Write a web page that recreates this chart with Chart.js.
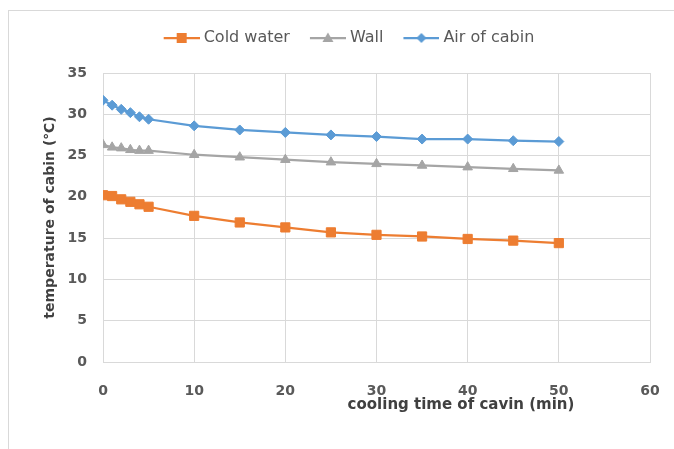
<!DOCTYPE html>
<html>
<head>
<meta charset="utf-8">
<script src="https://cdn.jsdelivr.net/npm/chart.js@4.4.0/dist/chart.umd.min.js"></script>
<style>
  html, body { margin: 0; padding: 0; overflow: hidden; background: #fff; }
  #frame { position: absolute; left: 8px; top: 10px; width: 700px; height: 500px; border: 1px solid #d9d9d9; }
  #chart { position: absolute; left: 0; top: 0; }
</style>
</head>
<body>
<div id="frame"></div>
<canvas id="chart" width="698" height="449"></canvas>
<script>
// values
var time = [0, 1, 2, 3, 4, 5, 10, 15, 20, 25, 30, 35, 40, 45, 50];
var coldWater = [20.2, 20.1, 19.7, 19.4, 19.1, 18.8, 17.7, 16.9, 16.3, 15.7, 15.4, 15.2, 14.9, 14.7, 14.4];
var wall = [26.3, 26.0, 25.9, 25.7, 25.6, 25.6, 25.1, 24.8, 24.5, 24.2, 24.0, 23.8, 23.6, 23.4, 23.2];
var airOfCabin = [31.7, 31.1, 30.6, 30.2, 29.7, 29.4, 28.6, 28.1, 27.8, 27.5, 27.3, 27.0, 27.0, 26.8, 26.7];

var seriesNames = ['Cold water', 'Wall', 'Air of cabin'];
var xTicks = [0, 10, 20, 30, 40, 50, 60];
var yTicks = [0, 5, 10, 15, 20, 25, 30, 35];
var xAxisTitle = 'cooling time of cavin (min)';
var yAxisTitle = 'temperature of cabin (\u2103)';

var colors = ['#ED7D31', '#A5A5A5', '#5B9BD5'];
var fontFamily = '"DejaVu Sans", "Noto Sans", sans-serif';

Chart.defaults.font.family = fontFamily;

function points(values) {
    return time.map(function (t, i) { return { x: t, y: values[i] }; });
}

// little line + marker pictures for the legend
function legendIcon(color, style) {
    var c = document.createElement('canvas');
    c.width = 40;
    c.height = 14;
    var g = c.getContext('2d');
    g.strokeStyle = color;
    g.fillStyle = color;
    g.lineWidth = 2.25;
    g.beginPath();
    g.moveTo(4, 7);
    g.lineTo(40, 7);
    g.stroke();
    g.beginPath();
    if (style === 'rect') {
        g.rect(17, 2, 10, 10);
    } else if (style === 'triangle') {
        g.moveTo(22, 1.5);
        g.lineTo(27.5, 11);
        g.lineTo(16.5, 11);
        g.closePath();
    } else {
        g.moveTo(22, 2);
        g.lineTo(27, 7);
        g.lineTo(22, 12);
        g.lineTo(17, 7);
        g.closePath();
    }
    g.fill();
    return c;
}

var legendIcons = [
    legendIcon(colors[0], 'rect'),
    legendIcon(colors[1], 'triangle'),
    legendIcon(colors[2], 'rectRot')
];

// keep the legend band a fixed height
var legendHeight = {
    id: 'legendHeight',
    beforeInit: function (chart) {
        var fit = chart.legend.fit;
        chart.legend.fit = function () {
            fit.call(this);
            this.height = 63;
        };
    }
};

// x title sits right under the ticks, off centre like the original
var xTitle = {
    id: 'xTitle',
    afterDraw: function (chart) {
        var ctx = chart.ctx;
        ctx.save();
        ctx.font = 'bold 15px ' + fontFamily;
        ctx.fillStyle = '#404040';
        ctx.textAlign = 'center';
        ctx.textBaseline = 'middle';
        ctx.fillText(xAxisTitle, 461, 405);
        ctx.restore();
    }
};

var tickFont = { size: 14, weight: 'bold' };
var gridColor = '#d9d9d9';

var ctx = document.getElementById('chart').getContext('2d');
var chart = new Chart(ctx, {
    type: 'line',
    data: {
        datasets: [{
            label: seriesNames[0],
            data: points(coldWater),
            borderColor: colors[0],
            backgroundColor: colors[0],
            pointStyle: 'rect',
            pointRadius: 6.5,
            pointBorderWidth: 1
        }, {
            label: seriesNames[1],
            data: points(wall),
            borderColor: colors[1],
            backgroundColor: colors[1],
            pointStyle: 'triangle',
            pointRadius: 5.5,
            pointBorderWidth: 1
        }, {
            label: seriesNames[2],
            data: points(airOfCabin),
            borderColor: colors[2],
            backgroundColor: colors[2],
            pointStyle: 'rectRot',
            pointRadius: 5,
            pointBorderWidth: 1
        }]
    },
    options: {
        responsive: false,
        animation: false,
        events: [],
        layout: { padding: { top: 10, left: 0, right: 0, bottom: 0 } },
        elements: { line: { borderWidth: 2.25, tension: 0 } },
        plugins: {
            tooltip: { enabled: false },
            legend: {
                position: 'top',
                labels: {
                    usePointStyle: true,
                    pointStyleWidth: 32,
                    padding: 20,
                    color: '#595959',
                    font: { size: 16 },
                    generateLabels: function (chart) {
                        return chart.data.datasets.map(function (ds, i) {
                            return {
                                text: ds.label,
                                pointStyle: legendIcons[i],
                                fontColor: '#595959',
                                datasetIndex: i,
                                hidden: false,
                                lineWidth: 0
                            };
                        });
                    }
                }
            }
        },
        scales: {
            x: {
                type: 'linear',
                min: xTicks[0],
                max: xTicks[xTicks.length - 1],
                afterBuildTicks: function (s) {
                    s.ticks = xTicks.map(function (v) { return { value: v }; });
                },
                ticks: { padding: 21, color: '#595959', font: tickFont },
                grid: { color: gridColor, drawTicks: false },
                border: { color: gridColor },
                afterFit: function (s) { s.height = 87; }
            },
            y: {
                min: yTicks[0],
                max: yTicks[yTicks.length - 1],
                afterBuildTicks: function (s) {
                    s.ticks = yTicks.map(function (v) { return { value: v }; });
                },
                ticks: { padding: 16, color: '#595959', font: tickFont },
                grid: { color: gridColor, drawTicks: false },
                border: { color: gridColor },
                title: {
                    display: true,
                    text: yAxisTitle,
                    color: '#404040',
                    font: { size: 14, weight: 'bold' },
                    padding: { top: 42, bottom: 0 }
                },
                afterFit: function (s) { s.width = 103; }
            },
            yRight: {
                position: 'right',
                ticks: { display: false },
                grid: { display: false },
                border: { display: false },
                afterFit: function (s) { s.width = 48; }
            }
        }
    },
    plugins: [legendHeight, xTitle]
});
</script>
</body>
</html>
